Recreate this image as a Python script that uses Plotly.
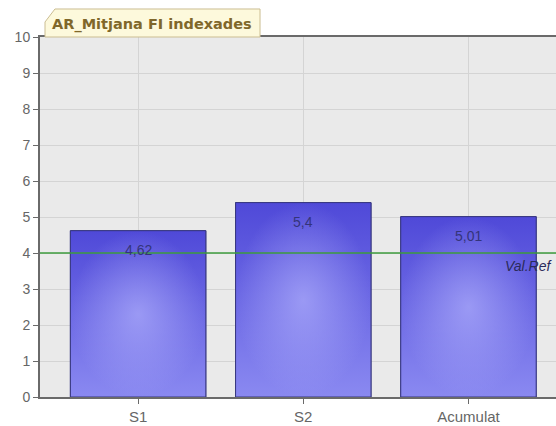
import plotly.graph_objects as go

categories = ["S1", "S2", "Acumulat"]
values = [4.62, 5.4, 5.01]
value_labels = ["4,62", "5,4", "5,01"]
ref_value = 4
ref_label = "Val.Ref"
title_text = "AR_Mitjana FI indexades"
y_ticks = list(range(0, 11))

BAR_W = 0.82
xs = list(range(len(categories)))
FONT = "Liberation Sans, Arial, sans-serif"

fig = go.Figure()
fig.add_trace(go.Bar(
    x=xs, y=values, width=BAR_W,
    marker=dict(color="#7370e6", line=dict(color="#3c3c8c", width=1)),
    showlegend=False, hoverinfo="y",
))

# gradient overlays built from the same data
for i, v in zip(xs, values):
    px = [i - BAR_W / 2, i + BAR_W / 2, i + BAR_W / 2, i - BAR_W / 2, i - BAR_W / 2]
    py = [0, 0, v, v, 0]
    fig.add_trace(go.Scatter(
        x=px, y=py, mode="lines", fill="toself", line=dict(width=0),
        fillgradient=dict(type="vertical", colorscale=[[0, "#8a89f1"], [1, "#4f49d8"]]),
        showlegend=False, hoverinfo="skip"))
    fig.add_trace(go.Scatter(
        x=px, y=py, mode="lines", fill="toself", line=dict(color="#38387e", width=1),
        fillgradient=dict(type="radial", colorscale=[[0, "rgba(185,185,255,0.6)"], [1, "rgba(185,185,255,0)"]]),
        showlegend=False, hoverinfo="skip"))

for i, v, t in zip(xs, values, value_labels):
    fig.add_annotation(x=i, y=v, text=t, showarrow=False, yanchor="top", yshift=-9,
                       font=dict(family=FONT, size=14, color="#34347a"))

fig.add_hline(y=ref_value, line=dict(color="#3d9b3d", width=1.5))
fig.add_annotation(x=2.21, y=ref_value, text="<i>" + ref_label + "</i>", showarrow=False,
                   xanchor="left", yanchor="top", yshift=-3,
                   font=dict(family=FONT, size=14, color="#2a2a5a"))

# title tab
fig.add_shape(type="path", xref="paper", yref="paper",
              path="M 0.0097,1 L 0.0097,1.0417 L 0.029,1.0778 L 0.4264,1.0778 L 0.4264,1 Z",
              fillcolor="#fdf9dc", line=dict(color="#cbbd92", width=1), layer="above")
fig.add_annotation(xref="paper", yref="paper", x=0.0194, y=1.035, text="<b>" + title_text + "</b>",
                   showarrow=False, xanchor="left", yanchor="middle",
                   font=dict(family="DejaVu Sans, Verdana, sans-serif", size=14.5, color="#80672a"))

fig.update_layout(
    width=556, height=426,
    margin=dict(l=40, r=0, t=37, b=29),
    paper_bgcolor="white", plot_bgcolor="#eaeaea",
    font=dict(family=FONT, size=14, color="#666666"),
)
fig.update_xaxes(range=[-0.594, 2.53], tickvals=xs, ticktext=categories,
                 showgrid=True, gridcolor="#d4d4d4", zeroline=False,
                 showline=True, linecolor="#6a6a6a", linewidth=2, mirror=True,
                 ticks="outside", ticklen=5, tickcolor="#6a6a6a",
                 tickfont=dict(size=15, color="#666666"), automargin=False)
fig.update_yaxes(range=[0, 10], tickvals=y_ticks, showgrid=True, gridcolor="#d4d4d4",
                 showline=True, linecolor="#6a6a6a", linewidth=2, zeroline=False,
                 ticks="outside", ticklen=5, tickcolor="#6a6a6a",
                 tickfont=dict(size=14, color="#666666"), automargin=False)

fig.write_html("out.html", config={"displayModeBar": False},
               post_script="document.body.style.margin='0';")
